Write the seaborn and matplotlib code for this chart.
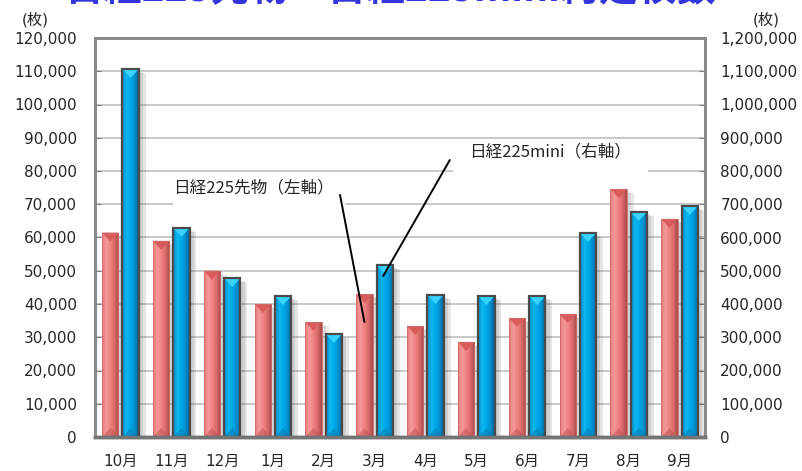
import numpy as np
import pandas as pd
import seaborn as sns
import matplotlib.pyplot as plt
import matplotlib.patheffects as pe
from matplotlib.colors import LinearSegmentedColormap
from matplotlib.patches import Polygon, Rectangle
from matplotlib.ticker import FuncFormatter

# データ
months = ['10月', '11月', '12月', '1月', '2月', '3月', '4月', '5月', '6月', '7月', '8月', '9月']
futures = [61500, 59000, 50000, 40000, 34600, 43000, 33400, 28600, 35800, 37000, 74600, 65600]
mini = [1107000, 629000, 478000, 424000, 310000, 517000, 427000, 424000, 424000, 614000, 677000, 695000]

sns.set_style('white')
plt.rcParams['font.family'] = ['DejaVu Sans', 'Noto Sans CJK JP']

df = pd.DataFrame({'月': months, '日経225先物': futures, '日経225mini': mini})

fig = plt.figure(figsize=(8.03, 4.71), dpi=100)
ax = fig.add_axes([95 / 803, 34 / 471, 610 / 803, 399 / 471])
ax2 = ax.twinx()

sns.barplot(data=df, x='月', y='日経225先物', ax=ax, color='#f07878',
            width=0.32, saturation=1, errorbar=None)
sns.barplot(data=df, x='月', y='日経225mini', ax=ax2, color='#00a8e8',
            width=0.32, saturation=1, errorbar=None)

ax.set_ylim(0, 120000)
ax2.set_ylim(0, 1200000)

pink_cmap = LinearSegmentedColormap.from_list('pink', ['#e87878', '#f79a9a', '#f08282', '#d86a6a', '#a84848'])
blue_cmap = LinearSegmentedColormap.from_list('blue', ['#0088c8', '#10b8f0', '#00a8e8', '#0090d0', '#005d90'])
grad = np.linspace(0, 1, 64).reshape(1, -1)


def style_bars(a, shift, cmap, cap, base, edge, lw, shadow_alpha):
    lo, hi = a.get_ylim()
    depth = 9 / (a.bbox.height / (hi - lo))
    for p in list(a.patches):
        p.set_x(p.get_x() + shift)
        x0, w, h = p.get_x(), p.get_width(), p.get_height()
        z = p.get_zorder()
        p.set_edgecolor('none')
        p.set_path_effects([pe.SimplePatchShadow(offset=(5, -3), shadow_rgbFace='#555555', alpha=shadow_alpha),
                            pe.SimplePatchShadow(offset=(3, -2), shadow_rgbFace='#555555', alpha=shadow_alpha),
                            pe.Normal()])
        im = a.imshow(grad, cmap=cmap, extent=[x0, x0 + w, 0, h], aspect='auto',
                      interpolation='bicubic', zorder=z + 0.1)
        im.set_clip_path(p)
        a.add_patch(Polygon([[x0, h], [x0 + w, h], [x0 + w / 2, h - depth]],
                            closed=True, facecolor=cap, edgecolor='none', zorder=z + 0.2))
        a.add_patch(Polygon([[x0, 0], [x0 + w, 0], [x0 + w / 2, depth]],
                            closed=True, facecolor=base, edgecolor='none', alpha=0.5, zorder=z + 0.2))
        a.add_patch(Rectangle((x0, 0), w, h, fill=False, edgecolor=edge, lw=lw, zorder=z + 0.3))


style_bars(ax, -0.2, pink_cmap, '#d85c5c', '#c05050', '#d06a6a', 0.6, 0.12)
style_bars(ax2, 0.2, blue_cmap, '#38d4ff', '#0078b0', '#4a4a4a', 1.6, 0.15)

ax.set_xlim(-0.5, 11.5)
ax.set_ylim(0, 120000)
ax2.set_ylim(0, 1200000)

# 軸・目盛
ax.set_yticks(range(0, 120001, 10000))
ax2.set_yticks(range(0, 1200001, 100000))
fmt = FuncFormatter(lambda v, _: f'{v:,.0f}')
ax.yaxis.set_major_formatter(fmt)
ax2.yaxis.set_major_formatter(fmt)
ax.set_xlabel('')
ax.set_ylabel('')
ax2.set_ylabel('')
ax.set_axisbelow(True)
ax.yaxis.grid(True, color='#c4c4c4', lw=1.3)
ax.set_xticks(np.arange(-0.5, 12, 1), minor=True)
ax.tick_params(axis='x', which='major', length=0, labelsize=11, pad=12)
ax.tick_params(axis='x', which='minor', direction='in', length=4, color='#808080', width=1)
ax.tick_params(axis='y', direction='in', length=4, color='#808080', labelsize=11, pad=13)
ax2.tick_params(axis='y', direction='in', length=4, color='#808080', labelsize=11, pad=11)
for a in (ax, ax2):
    for s in a.spines.values():
        s.set_color('#8a8a8a')
        s.set_linewidth(2)
    a.spines['bottom'].set_color('#747474')
    a.spines['bottom'].set_linewidth(2.5)

# 凡例代わりの注記
ax.add_patch(Rectangle((0.128, 0.569), 0.282, 0.085, transform=ax.transAxes,
                       facecolor='white', edgecolor='none', zorder=0.8))
ax.add_patch(Rectangle((0.587, 0.657), 0.32, 0.087, transform=ax.transAxes,
                       facecolor='white', edgecolor='none', zorder=0.8))
ax2.text(0.26, 0.624, '日経225先物（左軸）', transform=ax2.transAxes, ha='center', va='center',
         fontsize=12, family=['Noto Sans CJK JP'], zorder=10)
ax2.text(0.746, 0.714, '日経225mini（右軸）', transform=ax2.transAxes, ha='center', va='center',
         fontsize=12, family=['Noto Sans CJK JP'], zorder=10)
ax2.annotate('', xy=(4.8, 34600), xytext=(4.32, 72800), xycoords=ax.transData, textcoords=ax.transData,
             arrowprops=dict(arrowstyle='-', color='black', lw=1.4, shrinkA=0, shrinkB=0), zorder=10)
ax2.annotate('', xy=(5.17, 48400), xytext=(6.48, 83300), xycoords=ax.transData, textcoords=ax.transData,
             arrowprops=dict(arrowstyle='-', color='black', lw=1.4, shrinkA=0, shrinkB=0), zorder=10)

fig.text(35 / 803, 1 - 20 / 471, '(枚)', ha='center', va='center', fontsize=11)
fig.text(766 / 803, 1 - 20 / 471, '(枚)', ha='center', va='center', fontsize=11)
fig.text(390 / 803, 1 - 1 / 471, '日経225先物・日経225mini約定枚数', ha='center', va='baseline',
         fontsize=28, fontweight='bold', color='#3535e0', family=['Noto Sans CJK JP'])

fig.savefig('out.png', dpi=100)
